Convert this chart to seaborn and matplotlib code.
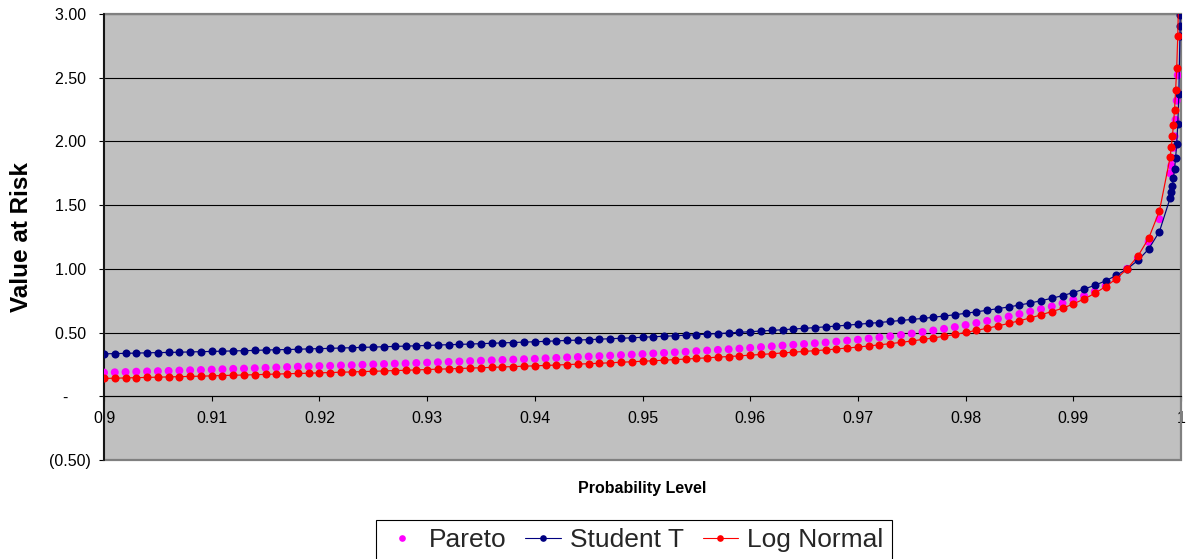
import matplotlib
matplotlib.use("Agg")
import matplotlib.pyplot as plt
import seaborn as sns
import pandas as pd
from matplotlib.patches import Rectangle
from matplotlib.lines import Line2D

# ---------------- data ----------------
prob = [
    0.900, 0.901, 0.902, 0.903, 0.904, 0.905, 0.906, 0.907, 0.908, 0.909,
    0.910, 0.911, 0.912, 0.913, 0.914, 0.915, 0.916, 0.917, 0.918, 0.919,
    0.920, 0.921, 0.922, 0.923, 0.924, 0.925, 0.926, 0.927, 0.928, 0.929,
    0.930, 0.931, 0.932, 0.933, 0.934, 0.935, 0.936, 0.937, 0.938, 0.939,
    0.940, 0.941, 0.942, 0.943, 0.944, 0.945, 0.946, 0.947, 0.948, 0.949,
    0.950, 0.951, 0.952, 0.953, 0.954, 0.955, 0.956, 0.957, 0.958, 0.959,
    0.960, 0.961, 0.962, 0.963, 0.964, 0.965, 0.966, 0.967, 0.968, 0.969,
    0.970, 0.971, 0.972, 0.973, 0.974, 0.975, 0.976, 0.977, 0.978, 0.979,
    0.980, 0.981, 0.982, 0.983, 0.984, 0.985, 0.986, 0.987, 0.988, 0.989,
    0.990, 0.991, 0.992, 0.993, 0.994, 0.995, 0.996, 0.997, 0.998, 0.999,
    0.9991, 0.9992, 0.9993, 0.9994, 0.9995, 0.9996, 0.9997, 0.9998, 0.9999,
    0.99991, 0.99992, 0.99993,
]

pareto = [
    0.186, 0.188, 0.190, 0.193, 0.195, 0.197, 0.199, 0.202, 0.204, 0.206,
    0.209, 0.212, 0.215, 0.217, 0.220, 0.223, 0.226, 0.229, 0.232, 0.234,
    0.237, 0.239, 0.242, 0.244, 0.247, 0.250, 0.253, 0.256, 0.258, 0.261,
    0.264, 0.267, 0.270, 0.273, 0.276, 0.279, 0.282, 0.285, 0.288, 0.291,
    0.294, 0.298, 0.301, 0.305, 0.308, 0.312, 0.315, 0.319, 0.323, 0.327,
    0.331, 0.336, 0.340, 0.345, 0.349, 0.354, 0.359, 0.364, 0.369, 0.374,
    0.380, 0.386, 0.392, 0.398, 0.404, 0.410, 0.416, 0.422, 0.429, 0.437,
    0.444, 0.453, 0.462, 0.471, 0.481, 0.492, 0.504, 0.516, 0.529, 0.543,
    0.559, 0.575, 0.591, 0.608, 0.626, 0.645, 0.664, 0.684, 0.705, 0.730,
    0.757, 0.788, 0.822, 0.866, 0.925, 1.000, 1.083, 1.212, 1.390, 1.750,
    1.81, 1.87, 1.95, 2.04, 2.17, 2.32, 2.52, 3.05, 3.60,
    3.70, 3.80, 3.90,
]

student_t = [
    0.333, 0.335, 0.337, 0.339, 0.341, 0.343, 0.344, 0.346, 0.348, 0.350,
    0.352, 0.354, 0.356, 0.358, 0.360, 0.363, 0.365, 0.367, 0.369, 0.372,
    0.374, 0.376, 0.379, 0.381, 0.384, 0.386, 0.389, 0.391, 0.394, 0.396,
    0.399, 0.402, 0.405, 0.407, 0.410, 0.413, 0.416, 0.419, 0.422, 0.425,
    0.428, 0.431, 0.435, 0.438, 0.441, 0.445, 0.448, 0.452, 0.455, 0.459,
    0.463, 0.467, 0.471, 0.475, 0.479, 0.483, 0.488, 0.492, 0.497, 0.502,
    0.507, 0.512, 0.517, 0.522, 0.528, 0.533, 0.539, 0.545, 0.551, 0.558,
    0.565, 0.572, 0.579, 0.587, 0.595, 0.603, 0.611, 0.620, 0.630, 0.640,
    0.651, 0.663, 0.675, 0.688, 0.701, 0.716, 0.732, 0.750, 0.769, 0.790,
    0.814, 0.841, 0.871, 0.906, 0.949, 1.000, 1.066, 1.156, 1.293, 1.558,
    1.602, 1.653, 1.712, 1.783, 1.870, 1.982, 2.136, 2.371, 2.831,
    2.908, 2.996, 3.090,
]

log_normal = [
    0.140, 0.142, 0.144, 0.146, 0.148, 0.150, 0.152, 0.154, 0.156, 0.158,
    0.160, 0.163, 0.165, 0.167, 0.169, 0.172, 0.174, 0.177, 0.179, 0.181,
    0.184, 0.186, 0.189, 0.191, 0.194, 0.196, 0.199, 0.202, 0.204, 0.207,
    0.210, 0.213, 0.215, 0.218, 0.221, 0.224, 0.227, 0.230, 0.233, 0.236,
    0.239, 0.242, 0.245, 0.249, 0.252, 0.256, 0.259, 0.263, 0.267, 0.271,
    0.275, 0.279, 0.283, 0.288, 0.292, 0.297, 0.302, 0.307, 0.312, 0.317,
    0.323, 0.328, 0.334, 0.340, 0.346, 0.352, 0.358, 0.364, 0.371, 0.379,
    0.386, 0.395, 0.404, 0.413, 0.423, 0.434, 0.446, 0.458, 0.471, 0.485,
    0.501, 0.517, 0.534, 0.552, 0.572, 0.593, 0.615, 0.639, 0.665, 0.690,
    0.725, 0.763, 0.808, 0.861, 0.923, 1.000, 1.100, 1.240, 1.455, 1.880,
    1.96, 2.04, 2.13, 2.25, 2.40, 2.575, 2.83, 3.20, 3.70,
    3.80, 3.90, 4.00,
]

x_ticks = [0.90, 0.91, 0.92, 0.93, 0.94, 0.95, 0.96, 0.97, 0.98, 0.99, 1.00]
x_tick_labels = ["0.9", "0.91", "0.92", "0.93", "0.94", "0.95",
                 "0.96", "0.97", "0.98", "0.99", "1"]
y_ticks = [-0.5, 0.0, 0.5, 1.0, 1.5, 2.0, 2.5, 3.0]
y_tick_labels = ["(0.50)", "-     ", "0.50 ", "1.00 ", "1.50 ",
                 "2.00 ", "2.50 ", "3.00 "]

series_names = ["Pareto", "Student T", "Log Normal"]
series_colors = ["#FF00FF", "#000080", "#FF0000"]

# ---------------- figure ----------------
sns.set_theme(style="white")
plt.rcParams["font.family"] = ["Liberation Sans", "DejaVu Sans"]

W, H = 1186, 559
fig = plt.figure(figsize=(W / 100, H / 100), dpi=100)
fig.patch.set_facecolor("white")
ax = fig.add_axes([104 / W, 1 - 460 / H, (1181 - 104) / W, 446 / H])
ax.set_facecolor("#C0C0C0")

df = pd.DataFrame({"prob": prob, "Pareto": pareto,
                   "Student T": student_t, "Log Normal": log_normal})

sns.scatterplot(data=df, x="prob", y="Pareto", color=series_colors[0],
                s=33, edgecolor="none", linewidth=0, ax=ax, zorder=3,
                legend=False)
sns.lineplot(data=df, x="prob", y="Student T", color=series_colors[1],
             marker="o", markersize=5.8, markeredgewidth=0, linewidth=0.85,
             ax=ax, zorder=4, legend=False)
sns.lineplot(data=df, x="prob", y="Log Normal", color=series_colors[2],
             marker="o", markersize=5.8, markeredgewidth=0, linewidth=0.85,
             ax=ax, zorder=5, legend=False)

ax.set_xlim(0.9, 1.0)
ax.set_ylim(-0.5, 3.0)

ax.set_yticks(y_ticks)
ax.set_yticklabels(y_tick_labels)
ax.set_xticks(x_ticks)
ax.set_xticklabels(x_tick_labels)

ax.yaxis.grid(True, color="black", linewidth=0.8, zorder=1)
ax.xaxis.grid(False)
ax.set_axisbelow(True)

# spines: x axis crosses at 0, gray frame on the other sides
ax.spines["bottom"].set_position(("data", 0))
ax.spines["bottom"].set_color("black")
ax.spines["bottom"].set_linewidth(0.8)
ax.spines["left"].set_color("black")
ax.spines["left"].set_linewidth(1.2)
ax.spines["top"].set_visible(False)
ax.spines["right"].set_visible(False)
ax.add_patch(Rectangle((0, 0), 1, 1, transform=ax.transAxes, fill=False,
                       edgecolor="#808080", linewidth=1.6, zorder=2.5,
                       clip_on=False))

ax.tick_params(axis="both", which="both", direction="out", length=3.6,
               width=0.8, color="black", labelsize=11.5, labelcolor="black")
ax.tick_params(axis="y", pad=6.2, left=True)
ax.tick_params(axis="x", pad=7, bottom=True)

ax.set_xlabel("")
ax.set_ylabel("Value at Risk", fontsize=17.5, fontweight="bold",
              color="black")
ax.yaxis.set_label_coords(-0.066, 0.5)

fig.text(642 / W, 1 - 488 / H, "Probability Level", ha="center",
         va="center", fontsize=11.5, fontweight="bold", color="black")

handles = [
    Line2D([], [], linestyle="", marker="o", markersize=4.8,
           markeredgewidth=0, color=series_colors[0]),
    Line2D([], [], linestyle="-", linewidth=0.8, marker="o", markersize=4.8,
           markeredgewidth=0, color=series_colors[1]),
    Line2D([], [], linestyle="-", linewidth=0.8, marker="o", markersize=4.8,
           markeredgewidth=0, color=series_colors[2]),
]
leg = fig.legend(handles, series_names, loc="upper center",
                 bbox_to_anchor=(0.5345, 1 - 520 / H), ncol=3, fontsize=19,
                 frameon=True, fancybox=False, edgecolor="black",
                 framealpha=1, handlelength=1.35, handletextpad=0.35,
                 columnspacing=0.7, borderpad=0.3, borderaxespad=0)
leg.get_frame().set_linewidth(0.8)

fig.savefig("out.png", dpi=100, facecolor="white")
